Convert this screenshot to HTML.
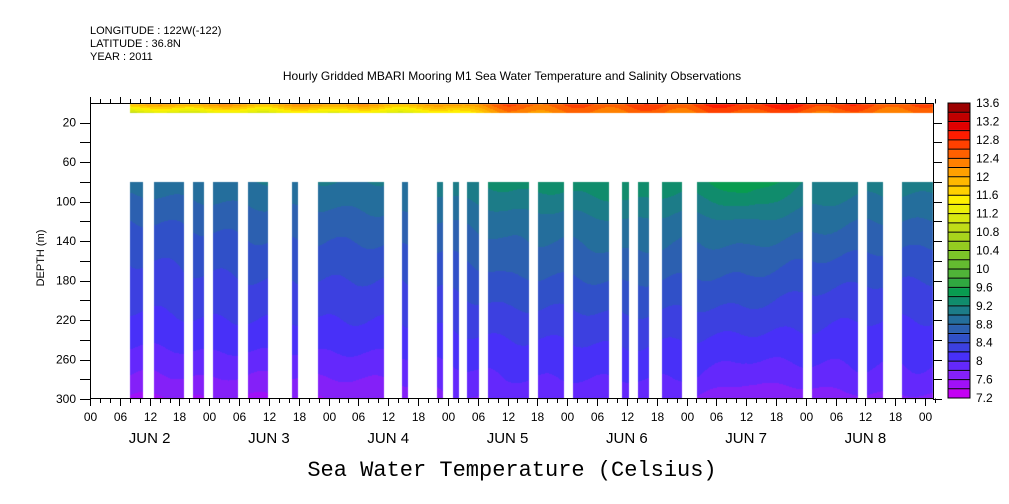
<!DOCTYPE html>
<html><head><meta charset="utf-8"><style>
body{margin:0;background:#fff;width:1009px;height:504px;overflow:hidden;font-family:"Liberation Sans",sans-serif}
#wrap{position:relative;width:1009px;height:504px}
svg text{font-family:"Liberation Sans",sans-serif}
</style></head><body>
<div id="wrap">
<canvas id="cv" width="1009" height="504" style="position:absolute;left:0;top:0"></canvas>
<svg id="sv" width="1009" height="504" style="position:absolute;left:0;top:0" xmlns="http://www.w3.org/2000/svg">
<text x="90" y="34" font-size="11">LONGITUDE : 122W(-122)</text>
<text x="90" y="47" font-size="11">LATITUDE : 36.8N</text>
<text x="90" y="60" font-size="11">YEAR : 2011</text>
<text x="512" y="80" font-size="12" text-anchor="middle">Hourly Gridded MBARI Mooring M1 Sea Water Temperature and Salinity Observations</text>
<text x="512" y="476" font-size="22" text-anchor="middle" style="font-family:'Liberation Mono',monospace">Sea Water Temperature (Celsius)</text>
<text transform="translate(44,258) rotate(-90)" font-size="11" text-anchor="middle">DEPTH (m)</text>
<g id="axes"></g>
</svg>
</div>
<script>
// ---- data ----
const times = [0,12,24,36,48,60,72,84,96,108,120,132,144,156,168];
const depths = [80,120,160,200,240,280,300];
const t80  = [8.9,8.9,8.95,9.0,9.0,9.0,9.1,9.3,9.3,9.4,9.3,9.6,9.2,9.1,9.1];
const t120 = [8.6,8.6,8.65,8.7,8.7,8.75,8.8,8.9,8.9,9.0,8.9,9.0,8.9,8.8,8.8];
const t160 = [8.4,8.4,8.45,8.5,8.5,8.5,8.55,8.7,8.7,8.75,8.7,8.7,8.6,8.55,8.5];
const t200 = [8.25,8.25,8.3,8.3,8.3,8.3,8.35,8.45,8.45,8.5,8.45,8.45,8.35,8.3,8.3];
const t240 = [8.05,8.05,8.1,8.1,8.1,8.1,8.15,8.2,8.2,8.25,8.2,8.15,8.15,8.1,8.1];
const t280 = [7.8,7.75,7.8,7.75,7.8,7.8,7.9,8.0,8.0,8.0,8.0,7.85,7.9,7.95,7.95];
const t300 = [7.6,7.55,7.6,7.55,7.6,7.65,7.75,7.85,7.85,7.85,7.8,7.6,7.65,7.75,7.75];
const surf0  = [12.1,12.1,12.3,12.1,12.4,12.1,12.2,12.6,12.6,12.7,12.7,12.95,12.9,12.7,12.6];
const surf10 = [11.0,11.0,11.2,11.2,11.3,11.2,11.3,12.2,12.3,12.4,12.4,12.6,12.5,12.4,12.3];
const surfStart = 8;
const segStarts = [8,12.9,20.7,24.7,31.8,40.6,45.9,62.8,69.8,73,75.8,80,90.1,97.2,107,110.2,115.1,122.1,145.3,156.3,163.4];
const segEnds   = [10.7,18.9,22.9,29.8,35.8,41.8,59.1,64,71,74.2,78.3,88.3,95.3,104.4,108.4,112.4,119.1,143.5,154.5,159.5,170];
const colors = ["#c400f4","#a010f8","#8420f8","#6428fc","#4830f8","#3c40e0","#3050c8","#2c60b0","#246e9c","#1c7c88","#108c6c","#089c50","#30a840","#50b438","#64bc30","#7cc428","#94cc20","#a8d41c","#c0dc18","#d8e810","#ecf008","#fff000","#ffd000","#ffb800","#ffa000","#ff8000","#ff6000","#ff4000","#ff1c00","#e00000","#c00000","#9c0000"];
const hourTicks = ["00","06","12","18"];
const dayLabels = ["JUN  2","JUN  3","JUN  4","JUN  5","JUN  6","JUN  7","JUN  8"];
const depthTicks = [20,60,100,140,180,220,260,300];
const cbLabels = [7.2,7.6,8,8.4,8.8,9.2,9.6,10,10.4,10.8,11.2,11.6,12,12.4,12.8,13.2,13.6];

// ---- axes ----
const X0=90, X1=933, Y0=103, Y1=399, PXH=119.3/24;
const xs = h => X0 + h*PXH;
const ys = d => Y0 + d*(Y1-Y0)/300;
const hOf = x => (x-X0)/PXH;
const dOf = y => (y-Y0)*300/(Y1-Y0);
const rows=[t80,t120,t160,t200,t240,t280,t300];

function interp1(grid,v){
  if(v<=grid[0]) return [0,0,0];
  for(let i=0;i<grid.length-1;i++) if(v<=grid[i+1]) return [i,i+1,(v-grid[i])/(grid[i+1]-grid[i])];
  return [grid.length-1,grid.length-1,0];
}
function colorFor(v){
  let i=Math.floor((v-7.2)/0.2); i=Math.max(0,Math.min(31,i)); return colors[i];
}
const cv=document.getElementById('cv'), ctx=cv.getContext('2d');
function inSeg(h){for(let i=0;i<segStarts.length;i++) if(h>=segStarts[i]&&h<segEnds[i]) return true; return false;}
for(let x=Math.floor(X0);x<X1;x++){
  const h=hOf(x+0.5);
  const [a,b,f]=interp1(times,h);
  if(h>=surfStart){
    for(let y=Math.round(ys(0))+1;y<Math.round(ys(10));y++){
      const d=dOf(y+0.5), g=Math.min(1,Math.max(0,d/10));
      const v0=surf0[a]*(1-f)+surf0[b]*f, v1=surf10[a]*(1-f)+surf10[b]*f;
      ctx.fillStyle=colorFor(v0*(1-g)+v1*g+0.15*Math.sin(x*0.09)); ctx.fillRect(x,y,1,1);
    }
  }
  if(inSeg(h)){
    for(let y=Math.round(ys(80));y<Y1;y++){
      const d=dOf(y+0.5);
      const [r0,r1,g]=interp1(depths,d);
      const va=rows[r0][a]*(1-f)+rows[r0][b]*f, vb=rows[r1][a]*(1-f)+rows[r1][b]*f;
      const wob=0.03*Math.sin(x*0.11+y*0.02);
      ctx.fillStyle=colorFor(va*(1-g)+vb*g+wob); ctx.fillRect(x,y,1,1);
    }
  }
}
// colorbar
const CBX=948, CBW=22, CBT=103, CBB=398, ch=(CBB-CBT)/32;
for(let i=0;i<32;i++){
  ctx.fillStyle=colors[i];
  ctx.fillRect(CBX,CBB-(i+1)*ch,CBW,ch);
}
const NS="http://www.w3.org/2000/svg";
const ax=document.getElementById('axes');
function el(tag,attrs){const e=document.createElementNS(NS,tag);for(const k in attrs)e.setAttribute(k,attrs[k]);ax.appendChild(e);return e;}
function ln(x1,y1,x2,y2,w){return el('line',{x1,y1,x2,y2,stroke:'#000','stroke-width':w||1});}
let fr=el('rect',{x:X0+0.5,y:Y0+0.5,width:X1-X0,height:Y1-Y0-1,fill:'none',stroke:'#000','stroke-width':1});


for(let h=0;h<=170;h+=2){
  const x=Math.round(xs(h))+0.5, major=h%6===0;
  ln(x,Y1-0.5,x,Y1+(major?7:4)); ln(x,Y0+0.5,x,Y0-(major?6:4));
  if(major){
    const t=el('text',{x:x,y:Y1+22,'font-size':12,'text-anchor':'middle'});
    t.textContent=hourTicks[(h/6)%4];
    
    
  }
}
dayLabels.forEach((s,i)=>{
  const t=el('text',{x:xs(12+24*i),y:Y1+44,'font-size':15,'text-anchor':'middle','xml:space':'preserve'});
  t.textContent=s;
  
  
});
for(let d=20;d<=300;d+=20){
  const y=Math.round(ys(d))+0.5;
  ln(X0-10,y,X0,y); ln(X1,y,X1+9,y);
}
depthTicks.forEach(d=>{
  const t=el('text',{x:X0-14,y:ys(d)+4,'font-size':12,'text-anchor':'end'});
  t.textContent=d;
  
  
});
for(let i=0;i<=32;i++){ln(CBX,CBB-i*ch,CBX+CBW,CBB-i*ch);}
let cbf=el('rect',{x:CBX,y:CBT,width:CBW,height:CBB-CBT,fill:'none',stroke:'#000'});


cbLabels.forEach(v=>{
  const t=el('text',{x:CBX+CBW+6,y:CBB-(v-7.2)/0.2*ch+4,'font-size':12});
  t.textContent=v;
  
  
});
</script>
</body></html>
